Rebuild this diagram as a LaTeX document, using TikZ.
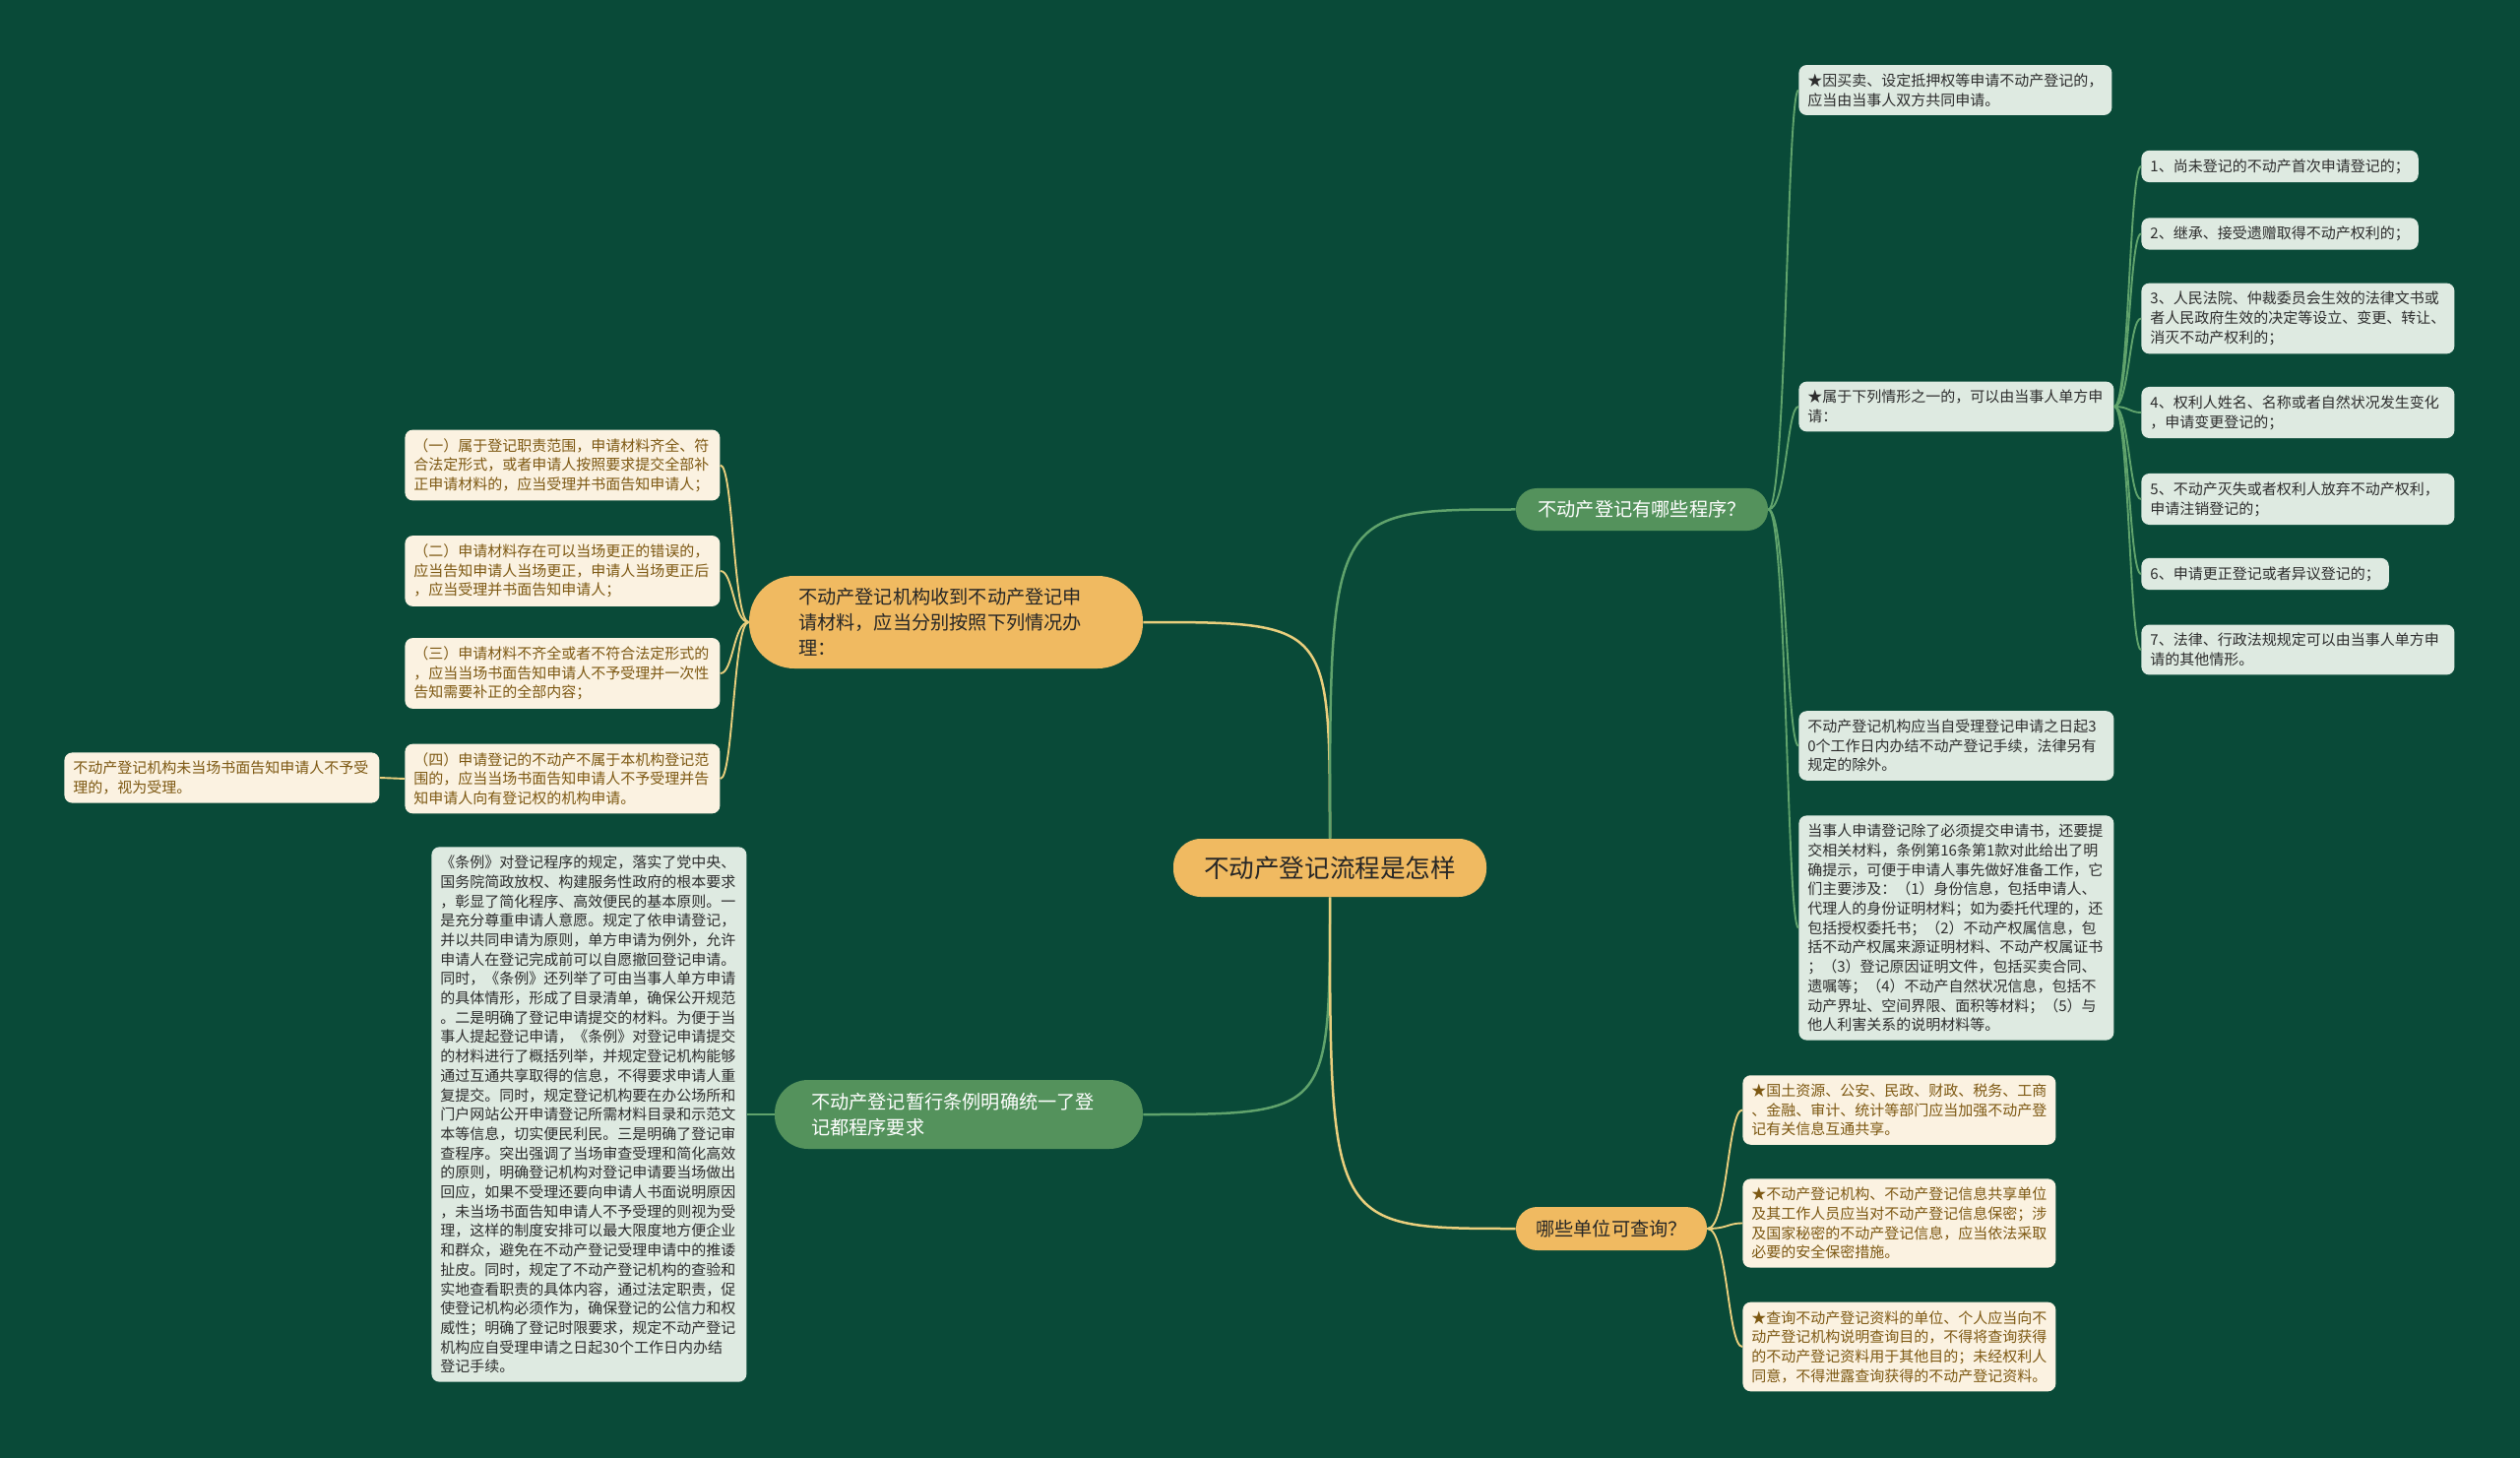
\documentclass[tikz,border=0pt]{standalone}
\usepackage{fontspec}
\setmainfont{Noto Sans CJK SC}
\definecolor{bgc}{RGB}{9,74,56}
\definecolor{yfill}{RGB}{240,186,97}
\definecolor{gfill}{RGB}{84,146,92}
\definecolor{lfill}{RGB}{222,234,225}
\definecolor{cfill}{RGB}{251,242,225}
\definecolor{ctext}{RGB}{125,88,18}
\definecolor{dtext}{RGB}{45,45,45}
\definecolor{ylinec}{RGB}{234,207,125}
\definecolor{glinec}{RGB}{96,163,108}
\newcommand\mmkid[4]{\draw[#1] (#2) .. controls (#3 |- #2) and (#3 |- #4) .. (#4);}
\tikzset{
  centre/.style={fill=yfill, text=black!85, rounded corners=14pt, inner sep=0pt,
    font=\fontsize{12.8}{15}\selectfont},
  ymain/.style={fill=yfill, text=black!85, inner sep=0pt, align=left,
    font=\fontsize{9.6}{13}\selectfont},
  gmain/.style={fill=gfill, text=white, inner sep=0pt, align=left,
    font=\fontsize{9.6}{13}\selectfont},
  lbox/.style={fill=lfill, text=dtext, rounded corners=4pt, anchor=west,
    inner xsep=4.5pt, inner ysep=4.3pt, align=left,
    font=\fontsize{7.5}{9.85}\selectfont},
  cbox/.style={lbox, fill=cfill, text=ctext},
  mainy/.style={draw=ylinec, line width=1.25pt},
  maing/.style={draw=glinec, line width=1.25pt},
  kidy/.style={draw=ylinec, line width=0.95pt},
  kidg/.style={draw=glinec, line width=0.95pt},
}
\begin{document}
\begin{tikzpicture}[x=0.5pt,y=-0.5pt]
\fill[bgc] (0,0) rectangle (2560,1481);
\useasboundingbox (0,0) rectangle (2560,1481);

% main nodes
\node[centre, minimum width=159pt, minimum height=29.5pt] (c) at (1351,881.5) {不动产登记流程是怎样};
\node[gmain, rounded corners=10.5pt, minimum width=128pt, minimum height=21.5pt] (r1) at (1668,517.5) {不动产登记有哪些程序？};
\node[ymain, rounded corners=10.8pt, minimum width=97pt, minimum height=22pt] (r2) at (1637,1248) {哪些单位可查询？};
\node[ymain, rounded corners=23pt, minimum width=200pt, minimum height=47pt, text width=150pt] (l1) at (961,632)
  {不动产登记机构收到不动产登记申\\请材料，应当分别按照下列情况办\\理：};
\node[gmain, rounded corners=17pt, minimum width=187pt, minimum height=35pt, text width=150pt] (l2) at (974,1132)
  {不动产登记暂行条例明确统一了登\\记都程序要求};

% right branch 1 children
\node[lbox] (a) at (1827,91.5) {★因买卖、设定抵押权等申请不动产登记的，\\应当由当事人双方共同申请。};
\node[lbox, text width=151pt] (b) at (1827,413) {★属于下列情形之一的，可以由当事人单方申\\请：};
\node[lbox, text width=151pt] (cc) at (1827,757.5) {不动产登记机构应当自受理登记申请之日起3\\0个工作日内办结不动产登记手续，法律另有\\规定的除外。};
\node[lbox, text width=151pt] (d) at (1827,942.5) {当事人申请登记除了必须提交申请书，还要提\\交相关材料，条例第16条第1款对此给出了明\\确提示，可便于申请人事先做好准备工作，它\\们主要涉及：（1）身份信息，包括申请人、\\代理人的身份证明材料；如为委托代理的，还\\包括授权委托书；（2）不动产权属信息，包\\括不动产权属来源证明材料、不动产权属证书\\；（3）登记原因证明文件，包括买卖合同、\\遗嘱等；（4）不动产自然状况信息，包括不\\动产界址、空间界限、面积等材料；（5）与\\他人利害关系的说明材料等。};

% items of b
\node[lbox] (i1) at (2175,169) {1、尚未登记的不动产首次申请登记的；};
\node[lbox] (i2) at (2175,237.5) {2、继承、接受遗赠取得不动产权利的；};
\node[lbox, text width=150pt] (i3) at (2175,323.5) {3、人民法院、仲裁委员会生效的法律文书或\\者人民政府生效的决定等设立、变更、转让、\\消灭不动产权利的；};
\node[lbox, text width=150pt] (i4) at (2175,419) {4、权利人姓名、名称或者自然状况发生变化\\，申请变更登记的；};
\node[lbox, text width=150pt] (i5) at (2175,507) {5、不动产灭失或者权利人放弃不动产权利，\\申请注销登记的；};
\node[lbox] (i6) at (2175,583) {6、申请更正登记或者异议登记的；};
\node[lbox, text width=150pt] (i7) at (2175,660) {7、法律、行政法规规定可以由当事人单方申\\请的其他情形。};

% right branch 2 children
\node[cbox, text width=150pt] (e) at (1770,1127.5) {★国土资源、公安、民政、财政、税务、工商\\、金融、审计、统计等部门应当加强不动产登\\记有关信息互通共享。};
\node[cbox, text width=150pt] (f) at (1770,1242.5) {★不动产登记机构、不动产登记信息共享单位\\及其工作人员应当对不动产登记信息保密；涉\\及国家秘密的不动产登记信息，应当依法采取\\必要的安全保密措施。};
\node[cbox, text width=150pt] (g) at (1770,1368) {★查询不动产登记资料的单位、个人应当向不\\动产登记机构说明查询目的，不得将查询获得\\的不动产登记资料用于其他目的；未经权利人\\同意，不得泄露查询获得的不动产登记资料。};

% left branch 1 children
\node[cbox, text width=151pt] (p1) at (411,472.5) {（一）属于登记职责范围，申请材料齐全、符\\合法定形式，或者申请人按照要求提交全部补\\正申请材料的，应当受理并书面告知申请人；};
\node[cbox, text width=151pt] (p2) at (411,580) {（二）申请材料存在可以当场更正的错误的，\\应当告知申请人当场更正，申请人当场更正后\\，应当受理并书面告知申请人；};
\node[cbox, text width=151pt] (p3) at (411,684) {（三）申请材料不齐全或者不符合法定形式的\\，应当当场书面告知申请人不予受理并一次性\\告知需要补正的全部内容；};
\node[cbox, text width=151pt] (p4) at (411,791) {（四）申请登记的不动产不属于本机构登记范\\围的，应当当场书面告知申请人不予受理并告\\知申请人向有登记权的机构申请。};
\node[cbox, text width=151pt] (p5) at (65,790) {不动产登记机构未当场书面告知申请人不予受\\理的，视为受理。};

% left branch 2 child
\node[lbox, text width=151pt] (big) at (438,1132) {《条例》对登记程序的规定，落实了党中央、\\国务院简政放权、构建服务性政府的根本要求\\，彰显了简化程序、高效便民的基本原则。一\\是充分尊重申请人意愿。规定了依申请登记，\\并以共同申请为原则，单方申请为例外，允许\\申请人在登记完成前可以自愿撤回登记申请。\\同时，《条例》还列举了可由当事人单方申请\\的具体情形，形成了目录清单，确保公开规范\\。二是明确了登记申请提交的材料。为便于当\\事人提起登记申请，《条例》对登记申请提交\\的材料进行了概括列举，并规定登记机构能够\\通过互通共享取得的信息，不得要求申请人重\\复提交。同时，规定登记机构要在办公场所和\\门户网站公开申请登记所需材料目录和示范文\\本等信息，切实便民利民。三是明确了登记审\\查程序。突出强调了当场审查受理和简化高效\\的原则，明确登记机构对登记申请要当场做出\\回应，如果不受理还要向申请人书面说明原因\\，未当场书面告知申请人不予受理的则视为受\\理，这样的制度安排可以最大限度地方便企业\\和群众，避免在不动产登记受理申请中的推诿\\扯皮。同时，规定了不动产登记机构的查验和\\实地查看职责的具体内容，通过法定职责，促\\使登记机构必须作为，确保登记的公信力和权\\威性；明确了登记时限要求，规定不动产登记\\机构应自受理申请之日起30个工作日内办结\\登记手续。};

% trunk coordinates
\coordinate (t1) at (1815,0);
\coordinate (t2) at (2163,0);
\coordinate (t3) at (1755,0);
\coordinate (t4) at (745,0);

% main connectors
\draw[mainy] (c.north) .. controls (c.north |- l1.east) .. (l1.east);
\draw[maing] (c.north) .. controls (c.north |- r1.west) .. (r1.west);
\draw[maing] (c.south) .. controls (c.south |- l2.east) .. (l2.east);
\draw[mainy] (c.south) .. controls (c.south |- r2.west) .. (r2.west);

% children connectors
\mmkid{kidg}{r1.east}{t1}{a.west}
\mmkid{kidg}{r1.east}{t1}{b.west}
\mmkid{kidg}{r1.east}{t1}{cc.west}
\mmkid{kidg}{r1.east}{t1}{d.west}
\mmkid{kidg}{b.east}{t2}{i1.west}
\mmkid{kidg}{b.east}{t2}{i2.west}
\mmkid{kidg}{b.east}{t2}{i3.west}
\mmkid{kidg}{b.east}{t2}{i4.west}
\mmkid{kidg}{b.east}{t2}{i5.west}
\mmkid{kidg}{b.east}{t2}{i6.west}
\mmkid{kidg}{b.east}{t2}{i7.west}
\mmkid{kidy}{r2.east}{t3}{e.west}
\mmkid{kidy}{r2.east}{t3}{f.west}
\mmkid{kidy}{r2.east}{t3}{g.west}
\mmkid{kidy}{l1.west}{t4}{p1.east}
\mmkid{kidy}{l1.west}{t4}{p2.east}
\mmkid{kidy}{l1.west}{t4}{p3.east}
\mmkid{kidy}{l1.west}{t4}{p4.east}
\draw[kidy] (p4.west) -- (p5.east);
\draw[kidg] (l2.west) -- (big.east);
\end{tikzpicture}
\end{document}
